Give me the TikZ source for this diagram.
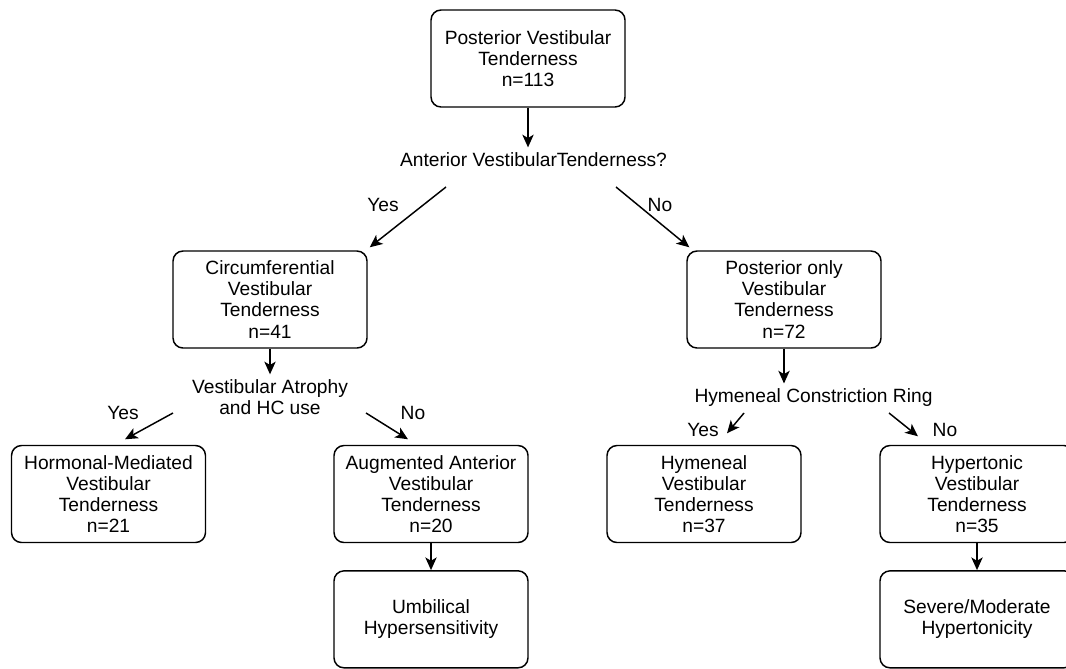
\documentclass[tikz,border=0pt]{standalone}
\usepackage{fontspec}
\setmainfont{Liberation Sans}
\usetikzlibrary{arrows.meta,positioning}

\begin{document}
\begin{tikzpicture}[x=0.75pt,y=-0.75pt,on grid,
    font=\fontsize{14.4}{15.8}\selectfont,
    box/.style={draw,rounded corners=7.5pt,line width=1.1pt,align=center,
      minimum width=145.5pt,minimum height=72.75pt,inner sep=2pt},
    ques/.style={align=center,inner sep=2pt},
    arr/.style={-{Stealth[length=9.5pt,width=8.5pt,inset=2.5pt]},line width=1.1pt}]
  \useasboundingbox (0,0) rectangle (1066,668);
  % Define boxes
  \node[box] (top) at (528,58.5) {Posterior Vestibular\\Tenderness\\n=113};
  \node[ques] (q1) at (533.5,160) {Anterior VestibularTenderness?};
  \node[box] (circ) at (270,299.5) {Circumferential\\Vestibular\\Tenderness\\n=41};
  \node[box] (post) at (784,299.5) {Posterior only\\Vestibular\\Tenderness\\n=72};
  \node[ques] (q2) at (270,397.5) {Vestibular Atrophy\\and HC use};
  \node[ques] (q3) at (813.5,398) {Hymeneal Constriction Ring};
  \node[box] (horm) at (108.5,494) {Hormonal-Mediated\\Vestibular\\Tenderness\\n=21};
  \node[box] (aug) at (431,494) {Augmented Anterior\\Vestibular\\Tenderness\\n=20};
  \node[box] (hym) at (704,494) {Hymeneal\\Vestibular\\Tenderness\\n=37};
  \node[box] (hyp) at (977,494) {Hypertonic\\Vestibular\\Tenderness\\n=35};
  \node[box] (umb) [below=94pt of aug] {Umbilical\\Hypersensitivity};
  \node[box] (sev) [below=94pt of hyp] {Severe/Moderate\\Hypertonicity};
  % Yes / No labels
  \node (yes1) at (383,205) {Yes};
  \node (no1) at (660,205) {No};
  \node (yes2) at (123,413) {Yes};
  \node (no2) at (413,413) {No};
  \node (yes3) at (703,430) {Yes};
  \node (no3) at (945,430) {No};
  % Free ends of the branches
  \coordinate (q1l) at (446,187);
  \coordinate (q1r) at (616,187);
  \coordinate (q2l) at (173,413);
  \coordinate (q2r) at (366,413);
  \coordinate (q3l) at (744,413);
  \coordinate (q3r) at (889,413);
  % Transitions
  \path[arr]
    (top.south) edge ([yshift=2pt]top.south |- q1.north)
    (q1l) edge ([shift={(2,-3)}]circ.north east)
    (q1r) edge ([shift={(3,-3)}]post.north west)
    (circ.south) edge ([yshift=2pt]q2.north)
    (post.south) edge ([yshift=2pt]post.south |- q3.north)
    (q2l) edge ([shift={(16.5,-5.5)}]horm.north)
    (q2r) edge ([shift={(-23,-5.5)}]aug.north)
    (q3l) edge ([shift={(23,-11.5)}]hym.north)
    (q3r) edge ([shift={(-59,-8.5)}]hyp.north)
    (aug) edge (umb)
    (hyp) edge (sev);
\end{tikzpicture}
\end{document}
